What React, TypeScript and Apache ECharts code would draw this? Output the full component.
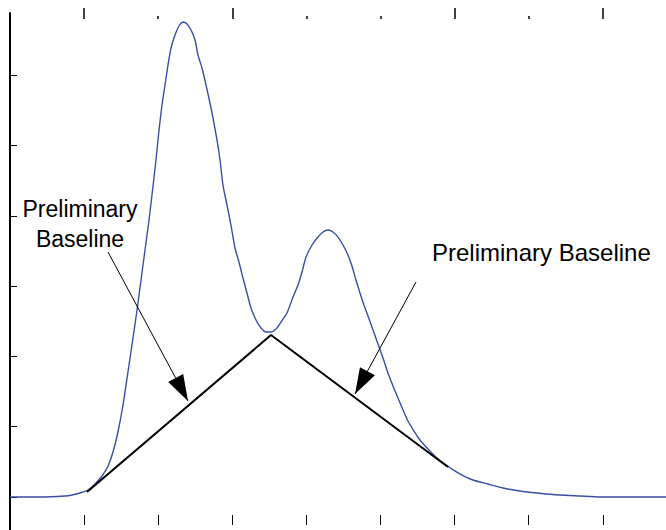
import React, { useEffect, useRef } from "react";
import * as echarts from "echarts";

// Chromatogram trace: [time, signal]
const traceX = [
  0, 0.405, 0.742, 0.837, 0.945, 1.053, 1.147, 1.242, 1.323, 1.39, 1.457, 1.525, 1.592, 1.66, 1.714, 1.768,
  1.822, 1.876, 1.916, 1.97, 2.011, 2.051, 2.092, 2.132, 2.173, 2.227, 2.281, 2.335,
  2.389, 2.443, 2.497, 2.537, 2.591, 2.645, 2.699, 2.74, 2.794, 2.834, 2.874, 2.928, 2.982, 3.036, 3.09,
  3.144, 3.198, 3.252, 3.32, 3.387, 3.455, 3.522, 3.59, 3.657, 3.738, 3.819, 3.887, 3.941, 3.995, 4.076,
  4.157, 4.224, 4.291, 4.359, 4.426, 4.494, 4.561, 4.615, 4.669, 4.723, 4.777, 4.831, 4.899, 4.966, 5.034,
  5.101, 5.169, 5.236, 5.304, 5.371, 5.452, 5.533, 5.641, 5.762, 5.87, 5.965, 6.1, 6.248, 6.451, 6.653,
  6.883, 7.112, 7.422, 7.692, 7.962, 8.853,
];
const traceY = [
  0, 0, 0.014, 0.028, 0.057, 0.1, 0.185, 0.299, 0.441, 0.64, 0.925, 1.309, 1.778, 2.262, 2.66, 3.087,
  3.514, 3.94, 4.296, 4.794, 5.22, 5.576, 5.861, 6.145, 6.387, 6.572, 6.7, 6.757,
  6.728, 6.643, 6.501, 6.287, 6.102, 5.861, 5.605, 5.391, 5.078, 4.794, 4.438, 4.154, 3.869, 3.542, 3.343,
  3.115, 2.902, 2.688, 2.518, 2.404, 2.347, 2.347, 2.39, 2.489, 2.617, 2.845, 3.016, 3.201, 3.414, 3.585,
  3.698, 3.77, 3.798, 3.77, 3.698, 3.585, 3.442, 3.286, 3.087, 2.902, 2.731, 2.575, 2.376, 2.176, 1.977,
  1.764, 1.579, 1.408, 1.238, 1.081, 0.939, 0.811, 0.683, 0.555, 0.469, 0.398, 0.313, 0.242, 0.185, 0.128,
  0.085, 0.057, 0.028, 0.014, 0, 0,
];

// Preliminary baseline vertices
const baselineX = [1.039, 3.522, 5.911];
const baselineY = [0.071, 2.304, 0.427];

// Annotation arrows: [startX, startY, tipX, tipY]
const arrowLeft = [1.323, 3.485, 2.402, 1.366];
const arrowRight = [5.479, 3.058, 4.656, 1.465];

const labelLeft = "Preliminary\nBaseline";
const labelRight = "Preliminary Baseline";

// Axis ticks
const xTicksLong = [1, 3, 6, 8];
const xTicksShort = [2, 4, 5, 7];
const xTicksBottom = [1, 2, 3, 4, 5, 6, 7, 8];
const yTicks = [0, 1, 2, 3, 4, 5, 6];

const X_MIN = 0;
const X_MAX = 8.853;
const Y_MIN = -0.469;
const Y_MAX = 6.885;

export default function App() {
  const ref = useRef<HTMLDivElement>(null);

  useEffect(() => {
    document.body.style.margin = "0";
    if (!ref.current) return;
    const chart = echarts.init(ref.current, null, { renderer: "svg" });

    const trace = traceX.map((x, i) => [x, traceY[i]]);
    const baseline = baselineX.map((x, i) => [x, baselineY[i]]);
    const arrowItem = (a: number[]) => [
      { coord: [a[0], a[1]], symbol: "none" },
      {
        coord: [a[2], a[3]],
        symbol: "triangle",
        symbolSize: [17, 26],
        symbolOffset: [0, 13],
      },
    ];

    const hiddenX = {
      type: "value",
      min: X_MIN,
      max: X_MAX,
      axisLine: { show: false, onZero: false },
      axisLabel: { show: false },
      splitLine: { show: false },
    };

    chart.setOption({
      animation: false,
      grid: { left: 10, right: 0, top: 13, bottom: 0, containLabel: false },
      xAxis: [
        {
          ...hiddenX,
          position: "bottom",
          offset: -5,
          axisTick: {
            show: true,
            inside: true,
            length: 10,
            customValues: xTicksBottom,
            lineStyle: { color: "#000", width: 1 },
          },
        },
        {
          ...hiddenX,
          position: "top",
          offset: -6,
          axisTick: {
            show: true,
            inside: false,
            length: 11,
            customValues: xTicksLong,
            lineStyle: { color: "#000", width: 1.5 },
          },
        },
        {
          ...hiddenX,
          position: "top",
          offset: -6,
          axisTick: {
            show: true,
            inside: false,
            length: 3,
            customValues: xTicksShort,
            lineStyle: { color: "#000", width: 1.5 },
          },
        },
      ],
      yAxis: {
        type: "value",
        min: Y_MIN,
        max: Y_MAX,
        axisLine: { show: true, onZero: false, lineStyle: { color: "#000", width: 2 } },
        axisTick: {
          show: true,
          inside: true,
          length: 7,
          customValues: yTicks,
          lineStyle: { color: "#000", width: 1 },
        },
        axisLabel: { show: false },
        splitLine: { show: false },
      },
      series: [
        {
          type: "line",
          data: trace,
          showSymbol: false,
          smooth: 0.2,
          lineStyle: { color: "#3a4fa3", width: 1.4 },
          silent: true,
          z: 2,
        },
        {
          type: "line",
          data: baseline,
          showSymbol: false,
          lineStyle: { color: "#000", width: 2 },
          silent: true,
          z: 3,
          markLine: {
            silent: true,
            animation: false,
            symbol: ["none", "triangle"],
            symbolSize: [
              [17, 26],
              [17, 26],
            ],
            symbolOffset: [
              [0, 0],
              [0, 13],
            ],
            label: { show: false },
            emphasis: { disabled: true },
            lineStyle: { color: "#000", width: 1, type: "solid" },
            itemStyle: { color: "#000" },
            data: [arrowItem(arrowLeft), arrowItem(arrowRight)],
          },
        },
      ],
      graphic: [
        {
          type: "text",
          x: 80,
          y: 194,
          style: {
            text: labelLeft,
            fontFamily: "Liberation Sans, Arial, sans-serif",
            fontSize: 23,
            lineHeight: 30,
            fill: "#000",
            align: "center",
            verticalAlign: "top",
          },
        },
        {
          type: "text",
          x: 432,
          y: 252,
          style: {
            text: labelRight,
            fontFamily: "Liberation Sans, Arial, sans-serif",
            fontSize: 24,
            fill: "#000",
            align: "left",
            verticalAlign: "middle",
          },
        },
      ],
    });

    return () => chart.dispose();
  }, []);

  return <div ref={ref} style={{ width: 666, height: 530 }} />;
}
